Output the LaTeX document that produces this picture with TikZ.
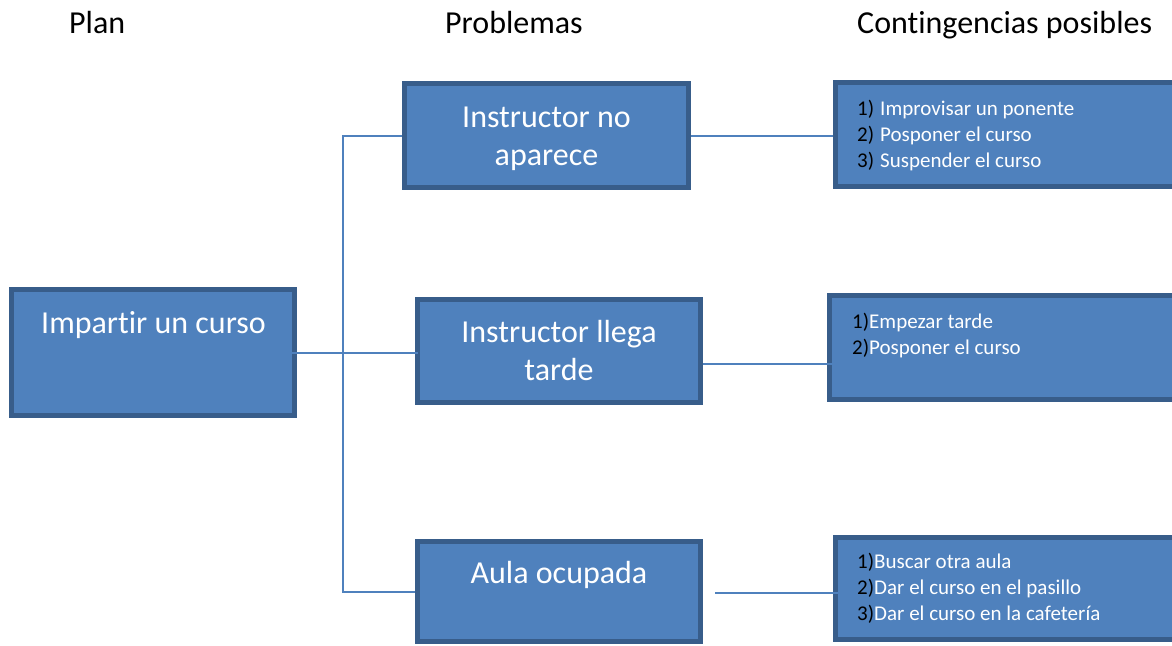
\documentclass[tikz,border=0pt]{standalone}
\usepackage{fontspec}
\setmainfont{Carlito}[Ligatures=NoCommon]
\definecolor{boxfill}{RGB}{79,129,189}
\definecolor{boxedge}{RGB}{56,93,138}
\definecolor{wire}{RGB}{79,129,189}
\newcommand{\itemlist}[1]{\begin{tabular}[t]{@{}l@{}}#1\end{tabular}}
\newcommand{\nr}[1]{\textcolor{black}{#1}}
\begin{document}
\begin{tikzpicture}[x=1pt,y=1pt,
  box/.style={draw=boxedge, fill=boxfill, line width=5pt, rectangle, inner sep=0pt},
  conn/.style={draw=wire, line width=2pt},
  hdr/.style={anchor=base west, inner sep=0pt, font=\fontsize{32}{38}\selectfont},
  ttl/.style={anchor=base, inner sep=0pt, text=white, font=\fontsize{32}{38}\selectfont},
  lst/.style={anchor=base west, inner sep=0pt, text=white, font=\fontsize{21}{26}\selectfont}
]
\useasboundingbox (0,0) rectangle (1172,-645);
\clip (0,0) rectangle (1172,-645);

% column headings
\node[hdr] (hplan) at (69,-33) {Plan};
\node[hdr] (hprob) at (445,-33) {Problemas};
\node[hdr] (hcont) at (857,-33) {Contingencias posibles};

% boxes
\node[box, minimum width=283pt, minimum height=126pt] (plan) at (153,-352.5) {};
\node[box, minimum width=284pt, minimum height=104pt] (p1) at (546.5,-135.5) {};
\node[box, minimum width=283pt, minimum height=103pt] (p2) at (559,-351) {};
\node[box, minimum width=283pt, minimum height=100pt] (p3) at (559,-591.5) {};
\node[box, minimum width=352pt, minimum height=104pt] (r1) at (1011.5,-134.5) {};
\node[box, minimum width=358pt, minimum height=104pt] (r2) at (1008.5,-347.5) {};
\node[box, minimum width=352pt, minimum height=102pt] (r3) at (1011.5,-588.5) {};

% connectors
\coordinate (bus) at (343,-353);
\draw[conn] ([xshift=-21pt]plan.east) -- ([xshift=3pt]plan.east -| p2.west);
\draw[conn] (p1.west) -| (bus) |- (p3.west);
\draw[conn] (p1.east) -- (p1.east -| r1.west);
\draw[conn] ([yshift=-13pt]p2.east) -- ([yshift=-13pt,xshift=19pt]p2.east -| r2.west);
\draw[conn] ([xshift=12pt,yshift=-1.5pt]p3.east) -- ([xshift=28pt,yshift=-1.5pt]p3.east -| r3.west);

% box titles
\node[ttl] (tplan) at (153.5,-333) {Impartir un curso};
\node[ttl] (tp1a) at (546.5,-127) {Instructor no};
\node[ttl] (tp1b) at (546.5,-165) {aparece};
\node[ttl] (tp2a) at (559,-342) {Instructor llega};
\node[ttl] (tp2b) at (559,-380) {tarde};
\node[ttl] (tp3) at (559,-583) {Aula ocupada};

% contingency lists
\node[lst] (l1) at (857,-115) {\itemlist{\nr{1)}\hspace{6pt}Improvisar un ponente\\
  \nr{2)}\hspace{6pt}Posponer el curso\\
  \nr{3)}\hspace{6pt}Suspender el curso}};
\node[lst] (l2) at (852,-328) {\itemlist{\nr{1)}Empezar tarde\\
  \nr{2)}Posponer el curso}};
\node[lst] (l3) at (857,-568) {\itemlist{\nr{1)}Buscar otra aula\\
  \nr{2)}Dar el curso en el pasillo\\
  \nr{3)}Dar el curso en la cafetería}};
\end{tikzpicture}
\end{document}
